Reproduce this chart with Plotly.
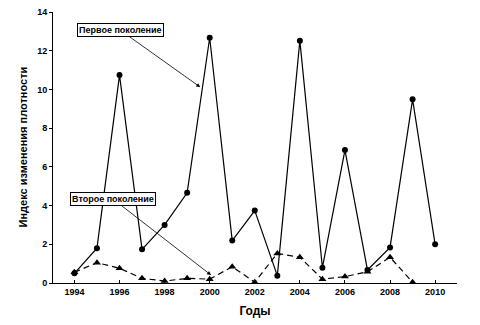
import plotly.graph_objects as go

years1 = [1994, 1995, 1996, 1997, 1998, 1999, 2000, 2001, 2002, 2003, 2004, 2005, 2006, 2007, 2008, 2009, 2010]
gen1 = [0.5, 1.8, 10.74, 1.74, 3.0, 4.66, 12.67, 2.19, 3.74, 0.38, 12.52, 0.79, 6.87, 0.67, 1.84, 9.49, 2.0]
years2 = [1994, 1995, 1996, 1997, 1998, 1999, 2000, 2001, 2002, 2003, 2004, 2005, 2006, 2007, 2008, 2009]
gen2 = [0.55, 1.05, 0.76, 0.24, 0.1, 0.24, 0.2, 0.84, 0.04, 1.53, 1.33, 0.2, 0.33, 0.58, 1.33, 0.04]

FONT = "Liberation Sans, Arial, sans-serif"

fig = go.Figure()
fig.add_trace(go.Scatter(x=years2, y=gen2, mode="lines+markers",
                         line=dict(color="black", width=1.2, dash="6px,4px"),
                         marker=dict(symbol="triangle-up", size=7, color="black"),
                         showlegend=False))
fig.add_trace(go.Scatter(x=years1, y=gen1, mode="lines+markers",
                         line=dict(color="black", width=1.2),
                         marker=dict(symbol="circle", size=6, color="black"),
                         showlegend=False))

ann_style = dict(showarrow=True, arrowhead=2, arrowsize=1, arrowwidth=0.8, arrowcolor="black",
                 bgcolor="white", bordercolor="black", borderwidth=1, borderpad=1,
                 font=dict(family=FONT, size=9, color="black", weight="bold"))
fig.add_annotation(x=1999.58, y=10.12, ax=-80, ay=-57, text="Первое поколение", **ann_style)
fig.add_annotation(x=2000.06, y=0.41, ax=-98, ay=-76, text="Второе поколение", **ann_style)
fig.add_annotation(x=0, y=0.5, xref="paper", yref="paper", xanchor="center", yanchor="middle",
                   xshift=-31, textangle=-90, showarrow=False, text="Индекс изменения плотности",
                   font=dict(family=FONT, size=11, color="black", weight="bold"))

fig.update_layout(
    width=480, height=325,
    margin=dict(l=53, r=23, t=12, b=42),
    paper_bgcolor="white", plot_bgcolor="white",
    font=dict(family=FONT, color="black"),
)
fig.update_xaxes(range=[1993.05, 2010.97], tick0=1994, dtick=2, showline=True, linecolor="black",
                 linewidth=1, showgrid=False, zeroline=False, ticks="inside", ticklen=3,
                 tickcolor="black", tickfont=dict(size=9, weight="bold"), automargin=False,
                 title=dict(text="Годы", font=dict(size=12, weight="bold"), standoff=10))
fig.update_yaxes(range=[0, 14], dtick=2, showline=True, linecolor="black", linewidth=1,
                 showgrid=False, zeroline=False, ticks="outside", ticklen=3, tickcolor="black",
                 tickfont=dict(size=9, weight="bold"), automargin=False)

fig.write_html("out.html")
